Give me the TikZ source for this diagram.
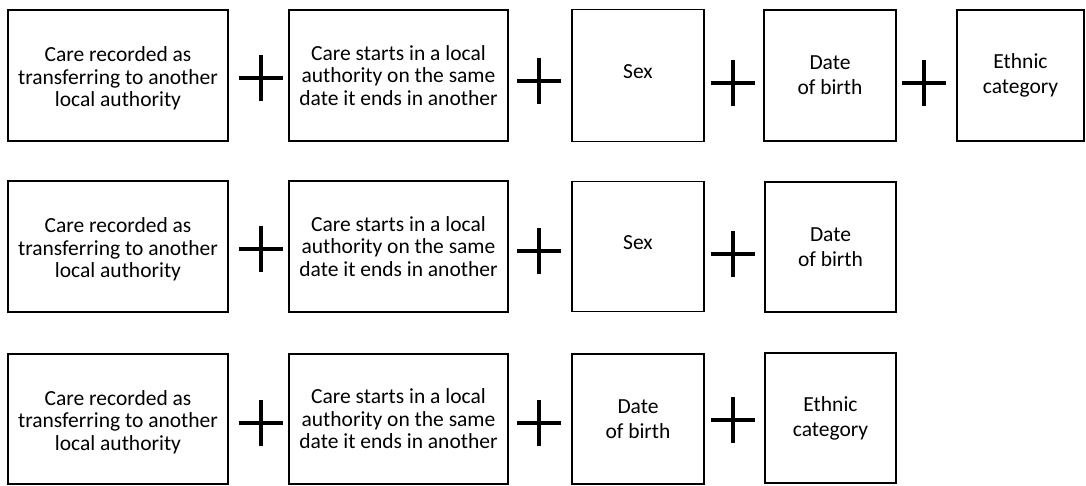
\documentclass[tikz,border=0pt]{standalone}
\usepackage{fontspec}
\setmainfont{Carlito}
\begin{document}
\begin{tikzpicture}[x=1pt,y=-1pt,
  box/.style={draw=black,line width=1.6pt,fill=white,inner sep=0pt,align=center,
    font=\fontsize{21.5}{22.5}\selectfont},
  box2/.style={box,font=\fontsize{21.5}{25}\selectfont},
  label/.style={align=center,font=\fontsize{21.5}{22.5}\selectfont,inner sep=0pt},
  plus/.style={minimum width=44pt,minimum height=46pt,inner sep=0pt,
    path picture={\draw[line width=4.6pt]
      (path picture bounding box.west) -- (path picture bounding box.east)
      (path picture bounding box.north) -- (path picture bounding box.south);}}]
\useasboundingbox (0,0) rectangle (1086,485);
% Row 1
\node[box,minimum width=220pt,minimum height=131pt] (a1) at (118,75.5) {};
\node[label] at ([yshift=-3pt]a1.center) (ta1) {Care recorded as\\transferring to another\\local authority};
\node[box,minimum width=219pt,minimum height=131pt] (b1) at (398.5,75.5) {Care starts in a local\\authority on the same\\date it ends in another};
\node[box,minimum width=132pt,minimum height=132pt] (c1) at (638,75.5) {};
\node[label] at ([yshift=3.5pt]c1.center) (tc1) {Sex};
\node[box2,minimum width=132pt,minimum height=131pt] (d1) at (830,75.5) {Date\\of birth};
\node[box2,minimum width=127pt,minimum height=131pt] (e1) at (1020.5,75.5) {Ethnic\\category};
\node[plus] (p11) at (261,78) {};
\node[plus] (p12) at (539,81) {};
\node[plus] (p13) at (733,83) {};
\node[plus] (p14) at (924,83) {};
% Row 2
\node[box,minimum width=220pt,minimum height=131pt] (a2) at (118,246.5) {};
\node[label] at ([yshift=-3pt]a2.center) (ta2) {Care recorded as\\transferring to another\\local authority};
\node[box,minimum width=219pt,minimum height=131pt] (b2) at (398.5,246.5) {Care starts in a local\\authority on the same\\date it ends in another};
\node[box,minimum width=132pt,minimum height=130pt] (c2) at (638,246.5) {};
\node[label] at ([yshift=3.5pt]c2.center) (tc2) {Sex};
\node[box2,minimum width=131pt,minimum height=130pt] (d2) at (830.5,247) {Date\\of birth};
\node[plus] (p21) at (261,249) {};
\node[plus] (p22) at (539,251) {};
\node[plus] (p23) at (733,254) {};
% Row 3
\node[box,minimum width=220pt,minimum height=130pt] (a3) at (118,419) {};
\node[label] at ([yshift=-3pt]a3.center) (ta3) {Care recorded as\\transferring to another\\local authority};
\node[box,minimum width=219pt,minimum height=130pt] (b3) at (398.5,419) {Care starts in a local\\authority on the same\\date it ends in another};
\node[box2,minimum width=132pt,minimum height=130pt] (c3) at (638,419) {Date\\of birth};
\node[box2,minimum width=131pt,minimum height=130pt] (d3) at (830.5,418) {Ethnic\\category};
\node[plus] (p31) at (261,423) {};
\node[plus] (p32) at (539,423) {};
\node[plus] (p33) at (733,420) {};
\end{tikzpicture}
\end{document}
